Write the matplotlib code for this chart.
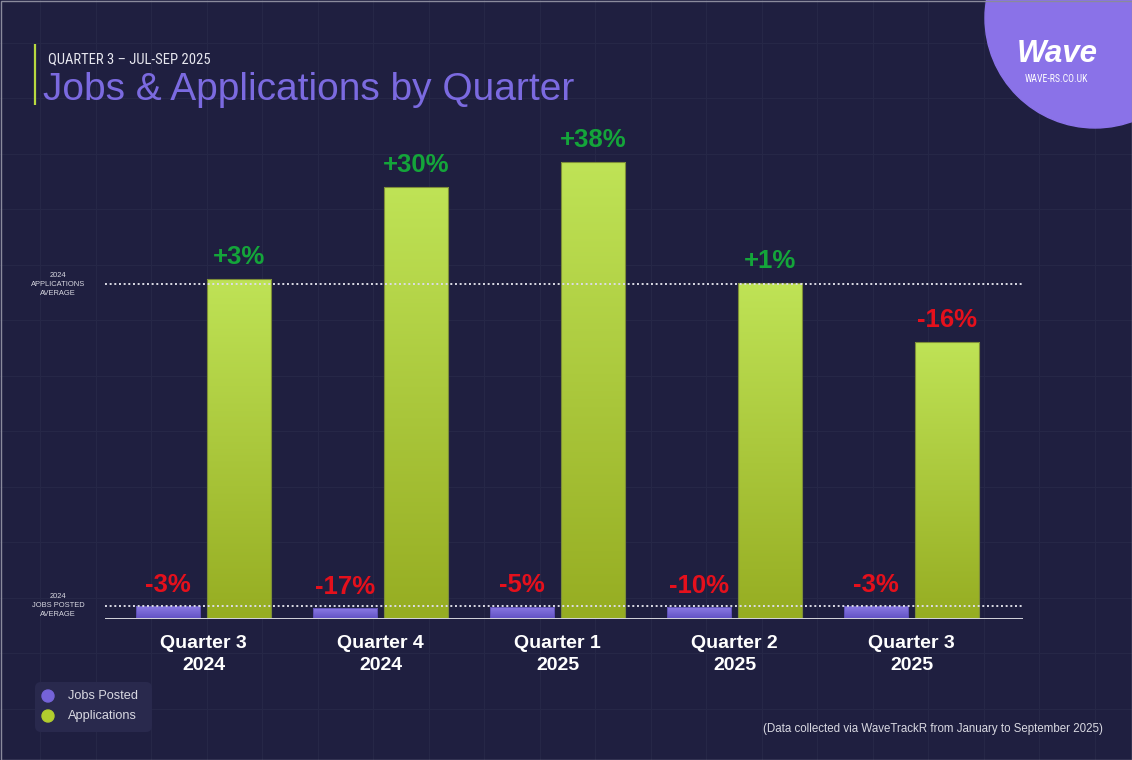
import numpy as np
import matplotlib
matplotlib.use("Agg")
import matplotlib.pyplot as plt
from matplotlib.patches import Circle, FancyBboxPatch, Rectangle
from matplotlib.colors import LinearSegmentedColormap
import matplotlib.transforms as mtransforms
import matplotlib.font_manager as fm

# ---------------- data ----------------
quarters = ["Quarter 3", "Quarter 4", "Quarter 1", "Quarter 2", "Quarter 3"]
years = ["2024", "2024", "2025", "2025", "2025"]
# values on a common index scale (2024 applications average = 100)
applications = [101.5, 129.0, 136.4, 100.3, 82.7]
jobs_posted = [3.75, 3.15, 3.70, 3.50, 3.75]
applications_avg = 100.0
jobs_avg = 3.9
applications_labels = ["+3%", "+30%", "+38%", "+1%", "-16%"]
jobs_labels = ["-3%", "-17%", "-5%", "-10%", "-3%"]
legend_labels = ["Jobs Posted", "Applications"]

# ---------------- style ----------------
W, H = 1132, 760
BG = "#1f1f40"
GRID = "#262747"
PURPLE_T, PURPLE_B = "#8c7ce4", "#5f4fc2"
GREEN_T, GREEN_B = "#bfe356", "#96ad22"
POS = "#14a53a"
NEG = "#e5101c"
TXT = "#d9d9e2"
FONT = "Liberation Sans"
plt.rcParams["font.family"] = [FONT, "DejaVu Sans"]

# condensed font for small caps labels
cond_path = None
prefs = ["Liberation Sans Narrow", "DejaVu Sans Condensed", "Roboto Condensed"]
for p in prefs:
    for f in fm.fontManager.ttflist:
        if (f.name == p or p in f.fname.replace("-", " ")) and f.style == "normal" and f.weight in (400, "normal", "regular"):
            cond_path = f.fname
            break
    if cond_path:
        break
if cond_path is None:
    for f in fm.fontManager.ttflist:
        if f.stretch in ("condensed", "semi-condensed") and f.style == "normal":
            cond_path = f.fname
            break
cond = fm.FontProperties(fname=cond_path) if cond_path else fm.FontProperties(family="DejaVu Sans")

fig = plt.figure(figsize=(W / 100, H / 100), dpi=100, facecolor=BG)

# background (pixel coordinates)
bg = fig.add_axes([0, 0, 1, 1], zorder=0)
bg.set_xlim(0, W)
bg.set_ylim(H, 0)
bg.axis("off")
bg.set_facecolor(BG)
step = 55.5
for gx in np.arange(40, W, step):
    bg.axvline(gx, color=GRID, lw=0.8, zorder=0)
for gy in np.arange(42.5, H, step):
    bg.axhline(gy, color=GRID, lw=0.8, zorder=0)
bg.add_patch(Rectangle((0.5, 0.5), W - 1, H - 1, fill=False, ec="#8a8a9c", lw=1.0, zorder=5))

# title block
bg.plot([35, 35], [44, 105], color="#b8d940", lw=1.6, solid_capstyle="butt", zorder=3)
bg.text(48, 63, "QUARTER 3 – JUL-SEP 2025", fontproperties=cond, fontsize=10.5,
        color="#e6e6ee", va="baseline", ha="left", zorder=3)
bg.text(43, 100, "Jobs & Applications by Quarter", fontsize=28, color="#7b6ae0",
        va="baseline", ha="left", zorder=3)

# logo
bg.add_patch(Circle((1095, 18), 110, color="#8a72e8", zorder=4, clip_on=True))
bg.text(1057, 62, "Wave", fontsize=22.5, fontweight="bold", fontstyle="italic", color="white",
        ha="center", va="baseline", zorder=5)
bg.text(1056, 82, "WAVE-RS.CO.UK", fontproperties=cond, fontsize=7, color="white",
        ha="center", va="baseline", zorder=5)

# ---------------- chart ----------------
x0_px, x1_px, y0_px, y1_px = 105, 1023, 619, 130
ax = fig.add_axes([x0_px / W, 1 - y0_px / H, (x1_px - x0_px) / W, (y0_px - y1_px) / H], zorder=2)
ax.patch.set_alpha(0)
for s in ax.spines.values():
    s.set_visible(False)
ax.set_xticks([])
ax.set_yticks([])

x = np.arange(len(quarters))
bw = 0.362
off = 0.2
b_jobs = ax.bar(x - off, jobs_posted, bw, facecolor="none", edgecolor="#5a4cb0", lw=0.6, zorder=4)
b_apps = ax.bar(x + off, applications, bw, facecolor="none", edgecolor="#7d8d38", lw=0.8, zorder=4)

grad = np.linspace(0, 1, 256).reshape(-1, 1)
cm_p = LinearSegmentedColormap.from_list("p", [PURPLE_B, PURPLE_T])
cm_g = LinearSegmentedColormap.from_list("g", [GREEN_B, GREEN_T])
for bars, cm in ((b_jobs, cm_p), (b_apps, cm_g)):
    for r in bars:
        im = ax.imshow(grad, extent=[r.get_x(), r.get_x() + r.get_width(), 0, r.get_height()],
                       origin="lower", aspect="auto", cmap=cm, zorder=3, interpolation="bilinear")
        im.set_clip_path(r)

ax.set_xlim(-0.5565, 4.630)
ax.set_ylim(0, (y0_px - y1_px) / 3.35)

ax.axhline(applications_avg, color="#dcdce6", lw=1.4, ls=(0, (1, 1.4)), zorder=5)
ax.axhline(jobs_avg, color="#dcdce6", lw=1.4, ls=(0, (1, 1.4)), zorder=5)
ax.axhline(0, color="#d4d4dc", lw=1.4, zorder=6)

for xi, v, lab in zip(x, applications, applications_labels):
    ax.annotate(lab, (xi + off, v), xytext=(0, 10.5), textcoords="offset points",
                ha="center", va="baseline", fontsize=18.5, fontweight="bold",
                color=POS if lab.startswith("+") else NEG, zorder=7)
for xi, v, lab in zip(x, jobs_posted, jobs_labels):
    ax.annotate(lab, (xi - off, v), xytext=(0, 10.5), textcoords="offset points",
                ha="center", va="baseline", fontsize=18.5, fontweight="bold",
                color=POS if lab.startswith("+") else NEG, zorder=7)

# category labels (x in data, y in pixels)
tr = mtransforms.blended_transform_factory(ax.transData, bg.transData)
for xi, q, yv in zip(x, quarters, years):
    ax.text(xi, 648, q, transform=tr, ha="center", va="baseline", fontsize=14,
            fontweight="bold", color="white", clip_on=False)
    ax.text(xi, 670.5, yv, transform=tr, ha="center", va="baseline", fontsize=14,
            fontweight="bold", color="white", clip_on=False)

# average labels (x in pixels, y in data)
tr2 = mtransforms.blended_transform_factory(bg.transData, ax.transData)
ax.text(58, applications_avg, "2024\nAPPLICATIONS\nAVERAGE", transform=tr2, ha="center",
        va="center", fontsize=5.4, color=TXT, linespacing=1.4, clip_on=False)
ax.text(58, jobs_avg, "2024\nJOBS POSTED\nAVERAGE", transform=tr2, ha="center",
        va="center", fontsize=5.4, color=TXT, linespacing=1.4, clip_on=False)

# legend
bg.add_patch(FancyBboxPatch((35, 682), 117, 50, boxstyle="round,pad=0,rounding_size=6",
                            fc="#29294d", ec="none", zorder=3))
for yy, c, lab in zip([696, 716], ["#7563d8", "#b2cd2e"], legend_labels):
    bg.add_patch(Circle((48, yy), 6, color=c, zorder=4))
    bg.text(68, yy, lab, fontsize=9.2, color=TXT, va="center", ha="left", zorder=4)

bg.text(1103, 729, "(Data collected via WaveTrackR from January to September 2025)",
        fontsize=8.3, color=TXT, ha="right", va="center", zorder=3)

fig.savefig("out.png", dpi=100, facecolor=BG)
